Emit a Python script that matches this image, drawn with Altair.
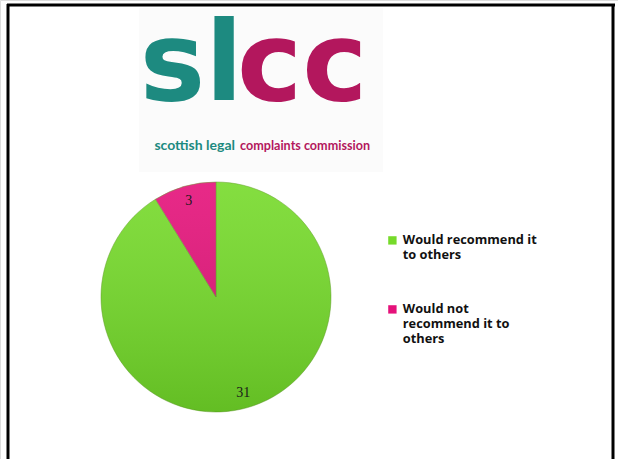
import altair as alt
import pandas as pd

# ---- data ----
categories = ["Would recommend it to others", "Would not recommend it to others"]
counts = [31, 3]
slice_colors = ["#76da2a", "#e5117a"]
legend_lines = {
    "Would recommend it to others": ["Would recommend it", "to others"],
    "Would not recommend it to others": ["Would not", "recommend it to", "others"],
}
logo_left = ["sl"]
logo_right = ["cc"]
sub_left = ["scottish legal"]
sub_right = ["complaints commission"]
teal = "#1d8a80"
magenta = "#b3175d"

df = pd.DataFrame({"category": categories, "count": counts, "order": [0, 1]})

CX, CY, R = 216, 297, 115

def js_list(lst):
    return "[" + ", ".join("'" + s + "'" for s in lst) + "]"

label_expr = (
    "datum.label == '" + categories[0] + "' ? "
    + js_list(legend_lines[categories[0]])
    + " : " + js_list(legend_lines[categories[1]])
)

legend = alt.Legend(
    title=None,
    orient="none",
    legendX=386,
    legendY=234,
    symbolType="square",
    symbolSize=70,
    symbolStrokeWidth=0,
    labelFont="Open Sans",
    labelFontWeight="bold",
    labelFontSize=12.8,
    labelColor="#111111",
    labelExpr=label_expr,
    labelBaseline="middle",
    labelLimit=300,
    labelOffset=4,
    rowPadding=41,
)

base = alt.Chart(df).encode(
    theta=alt.Theta("count:Q", stack=True),
    order=alt.Order("order:Q"),
)

pie = base.mark_arc(radius=R, stroke="#5c9a22", strokeWidth=0.8, strokeOpacity=0.6).encode(
    x=alt.value(CX), y=alt.value(CY),
    color=alt.Color("category:N", scale=alt.Scale(domain=categories, range=slice_colors),
                    legend=legend, sort=categories),
)
shade = alt.Chart(pd.DataFrame({"k": [0]})).mark_arc(
    radius=R,
    fill={"gradient": "linear", "x1": 0, "y1": 0, "x2": 0, "y2": 1,
          "stops": [{"offset": 0, "color": "rgba(255,255,255,0.10)"},
                    {"offset": 1, "color": "rgba(0,40,0,0.16)"}]},
).encode(x=alt.value(CX), y=alt.value(CY), theta=alt.value(0), theta2=alt.value(6.2832))
labels = base.mark_text(radius=100, font="Liberation Serif", fontSize=14, color="#1a1a1a").encode(
    x=alt.value(CX), y=alt.value(CY), text="count:Q"
)

one = pd.DataFrame({"k": [0]})
logo_box = alt.Chart(one).mark_rect(fill="#fbfbfb").encode(
    x=alt.value(139), x2=alt.value(383), y=alt.value(8), y2=alt.value(172))
sl = alt.Chart(pd.DataFrame({"t": logo_left})).mark_text(
    font="DejaVu Sans", fontWeight="bold", fontSize=110, color=teal, align="right", baseline="alphabetic"
).encode(text="t:N", x=alt.value(243), y=alt.value(100))
cc = alt.Chart(pd.DataFrame({"t": logo_right})).mark_text(
    font="DejaVu Sans", fontWeight="bold", fontSize=110, color=magenta, align="left", baseline="alphabetic"
).encode(text="t:N", x=alt.value(237), y=alt.value(100))
s1 = alt.Chart(pd.DataFrame({"t": sub_left})).mark_text(
    font="Lato", fontWeight="bold", fontSize=14, color=teal, align="right", baseline="alphabetic"
).encode(text="t:N", x=alt.value(235), y=alt.value(150))
s2 = alt.Chart(pd.DataFrame({"t": sub_right})).mark_text(
    font="Lato", fontWeight="bold", fontSize=12.6, color=magenta, align="left", baseline="alphabetic"
).encode(text="t:N", x=alt.value(240), y=alt.value(150))

left = alt.Chart(one).mark_rule(color="black", strokeWidth=3).encode(
    x=alt.value(8), y=alt.value(4), y2=alt.value(470))
top = alt.Chart(one).mark_rule(color="black", strokeWidth=3).encode(
    x=alt.value(7), x2=alt.value(615), y=alt.value(5))
right = alt.Chart(one).mark_rule(color="black", strokeWidth=3).encode(
    x=alt.value(613), y=alt.value(4), y2=alt.value(470))

chart = alt.layer(logo_box, sl, cc, s1, s2, pie, shade, labels, left, top, right).properties(
    width=618, height=459, padding=0, autosize=alt.AutoSizeParams(type="none")
).configure_view(strokeWidth=0).configure(background="white")

chart.save("out.html", embed_options={"renderer": "svg", "actions": False})
